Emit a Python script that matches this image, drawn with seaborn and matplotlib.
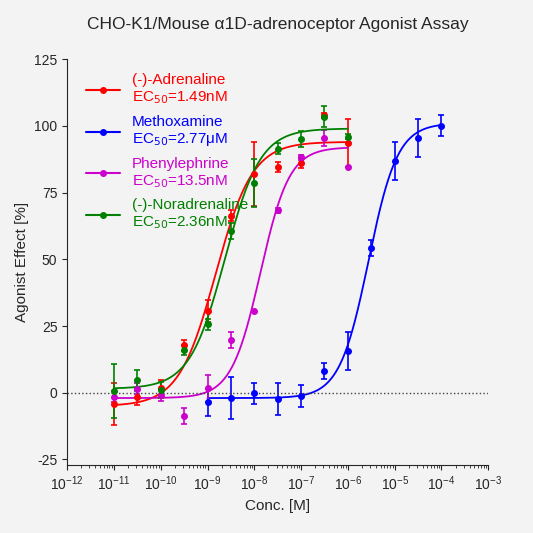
import numpy as np
import matplotlib
matplotlib.use("Agg")
import matplotlib.pyplot as plt
import seaborn as sns

# data
log_a = np.arange(-11, -5.9, 0.5)
log_m = np.arange(-9, -3.9, 0.5)
adr = [-4.2, -1.7, 1.7, 17.8, 30.6, 66.3, 81.8, 84.6, 86.1, 104.0, 93.6]
adr_err = [8, 3, 3, 2, 4, 2, 12, 2, 2, 1, 9]
met = [-3.6, -2.0, -0.2, -2.2, -1.2, 8.2, 15.6, 54.2, 86.9, 95.5, 100.1]
met_err = [5, 8, 4, 6, 4, 3, 7, 3, 7, 7, 4]
phe = [-1.5, 1.5, -1.0, -8.7, 1.7, 19.7, 30.6, 68.3, 88.2, 95.4, 84.5]
phe_err = [2, 2, 2, 3, 5, 3, 0.5, 1, 1, 3, 0]
nor = [0.7, 4.7, 1.2, 16.0, 25.6, 60.6, 78.7, 91.4, 95.2, 103.5, 96.0]
nor_err = [10, 4, 3, 2, 2, 3, 9, 2, 3, 4, 1]

# fitted 4PL parameters: bottom, top, EC50, hill
series = [
    ("(-)-Adrenaline", "1.49nM", "#ff0000", log_a, adr, adr_err, (-5, 94, 1.49e-9, 1.1)),
    ("Methoxamine", "2.77μM", "#0000ff", log_m, met, met_err, (-2, 101, 2.77e-6, 1.4)),
    ("Phenylephrine", "13.5nM", "#cc00cc", log_a, phe, phe_err, (-2, 92, 13.5e-9, 1.4)),
    ("(-)-Noradrenaline", "2.36nM", "#008000", log_a, nor, nor_err, (1.5, 99, 2.36e-9, 1.15)),
]

sns.set_style("ticks")
plt.rcParams["font.family"] = ["Liberation Sans", "DejaVu Sans"]
plt.rcParams["axes.unicode_minus"] = False

fig = plt.figure(figsize=(5.33, 5.33), dpi=100, facecolor="#f3f3f3")
ax = fig.add_axes([0.126, 0.128, 0.79, 0.761])
ax.set_facecolor("#f3f3f3")

for name, ec, col, lx, y, err, (b, t, e, h) in series:
    x = 10.0 ** lx
    xs = np.logspace(lx[0], lx[-1], 300)
    ys = b + (t - b) / (1 + (e / xs) ** h)
    sns.lineplot(x=xs, y=ys, color=col, lw=1.3, ax=ax)
    ax.errorbar(x, y, yerr=err, fmt="o", ms=4, color=col, capsize=2, elinewidth=1.2, capthick=1.2)
    ax.plot([], [], "-o", color=col, ms=4, lw=1.5, label=name + "\nEC$_{50}$=" + ec)

ax.axhline(0, color="#444444", ls=":", lw=1)
ax.set_xscale("log")
ax.set_xlim(1e-12, 1e-3)
ax.set_xticks([10.0 ** k for k in range(-12, -2)])
ax.set_ylim(-27, 125)
ax.set_yticks(range(-25, 126, 25))
ax.tick_params(labelsize=10)
ax.set_xlabel("Conc. [M]", fontsize=11)
ax.set_ylabel("Agonist Effect [%]", fontsize=11)
ax.set_title("CHO-K1/Mouse α1D-adrenoceptor Agonist Assay", fontsize=12.5, pad=22)
sns.despine(ax=ax)

leg = ax.legend(loc="upper left", frameon=False, fontsize=11, handlelength=2.2,
                labelspacing=0.55, borderaxespad=0.0, bbox_to_anchor=(0.03, 0.98))
for txt, s in zip(leg.get_texts(), series):
    txt.set_color(s[2])

fig.savefig("out.png", dpi=100, facecolor=fig.get_facecolor())
